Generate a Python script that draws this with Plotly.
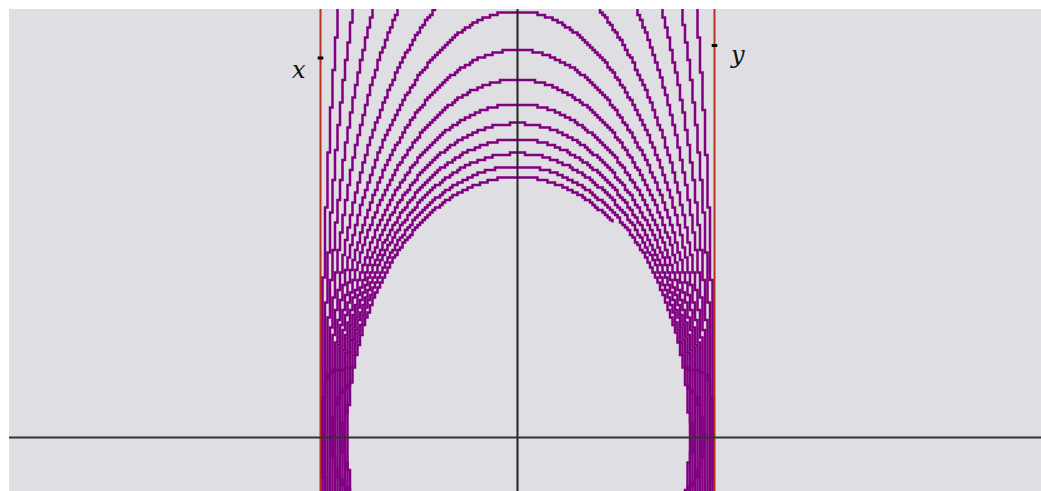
import numpy as np
import plotly.graph_objects as go

# Semi-axes of the family of ellipses (pixel-like units, origin at axes crossing)
semi_a = [170, 172, 174, 176, 178, 180, 182, 184, 186, 188, 190, 192, 194, 196]
semi_b = [260.5, 271, 284, 298, 314, 333.5, 358, 387.5, 426, 476, 550, 648, 802, 1052]
# parameter span (radians) of each curve; the innermost one is open on the right side
t_start = [0.974] + [0.0] * 13
t_end = [4.8] + [2 * np.pi] * 13

asymptote_x = [-197, 197]
label_text = ["x", "y"]
label_x = [-219, 220]
label_y = [368, 383]
mark_x = [-197, 197]
mark_y = [379.5, 392]

X_RANGE = [-508.5, 523.5]
Y_RANGE = [-53.5, 428.5]
RASTER = 2.5  # the reference was drawn on a coarse pixel grid (stair-stepped lines)

fig = go.Figure()

# red vertical lines
for xv in asymptote_x:
    fig.add_trace(go.Scatter(x=[xv, xv], y=[Y_RANGE[0] - 10, Y_RANGE[1] + 10], mode="lines",
                             line=dict(color="#b8321f", width=2), hoverinfo="skip", showlegend=False))

# purple curves, rendered with the same stair-step look as the raster original
for a, b, t0, t1 in zip(semi_a, semi_b, t_start, t_end):
    t = np.linspace(t0, t1, 4000)
    xs = np.round(a * np.cos(t) / RASTER) * RASTER
    ys = np.round(b * np.sin(t) / RASTER) * RASTER
    keep = np.ones(len(xs), dtype=bool)
    keep[1:] = (np.diff(xs) != 0) | (np.diff(ys) != 0)
    fig.add_trace(go.Scatter(x=xs[keep], y=ys[keep], mode="lines",
                             line=dict(color="#800080", width=2.5, shape="hv"),
                             hoverinfo="skip", showlegend=False))

# small black marks near the red lines
fig.add_trace(go.Scatter(x=mark_x, y=mark_y, mode="markers",
                         marker=dict(symbol="line-ew", size=4, line=dict(color="black", width=3)),
                         hoverinfo="skip", showlegend=False))

# axis lines on top
fig.add_shape(type="line", xref="x", yref="paper", x0=0, x1=0, y0=0, y1=1,
              line=dict(color="#222222", width=2), layer="above")
fig.add_shape(type="line", xref="paper", yref="y", x0=0, x1=1, y0=0, y1=0,
              line=dict(color="#333333", width=2), layer="above")

for txt, tx, ty in zip(label_text, label_x, label_y):
    fig.add_annotation(x=tx, y=ty, text=f"<i>{txt}</i>", showarrow=False,
                       font=dict(family="DejaVu Serif", size=24, color="#111111"))

fig.update_layout(
    width=1041, height=491,
    margin=dict(l=9, r=0, t=9, b=0),
    paper_bgcolor="white", plot_bgcolor="#dfdee3",
    xaxis=dict(range=X_RANGE, showgrid=False, zeroline=False, showticklabels=False,
               ticks="", fixedrange=True),
    yaxis=dict(range=Y_RANGE, showgrid=False, zeroline=False, showticklabels=False,
               ticks="", fixedrange=True),
)

fig.write_html(
    "out.html",
    config={"displayModeBar": False},
    post_script="document.body.style.margin='0';document.body.style.overflow='hidden';",
)
